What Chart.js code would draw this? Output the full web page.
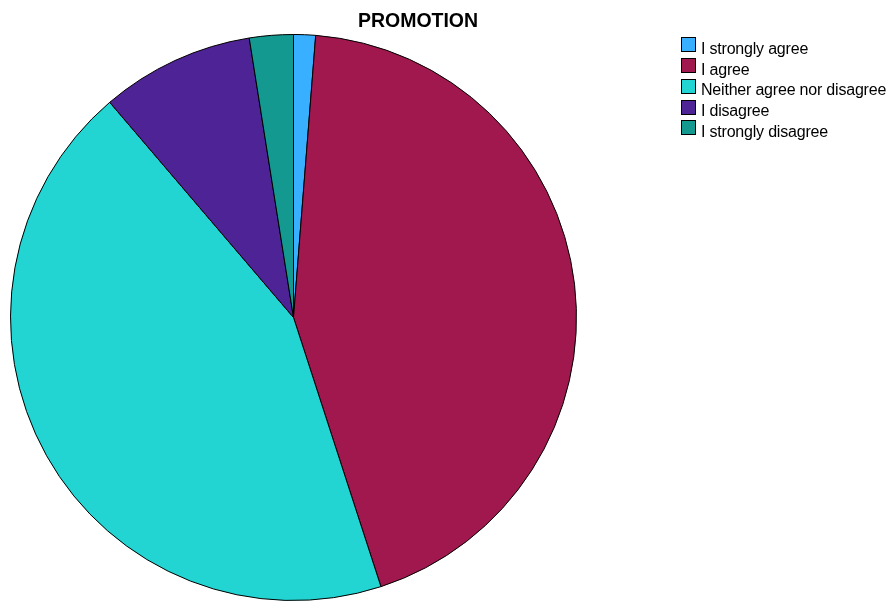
<!DOCTYPE html>
<html>
<head>
<meta charset="utf-8">
<script src="https://cdn.jsdelivr.net/npm/chart.js@4/dist/chart.umd.min.js"></script>
<style>
    html, body { margin: 0; padding: 0; background: #fff; }
    #wrap { position: relative; width: 890px; height: 603px; overflow: hidden; }
    #pie { position: absolute; left: 0; top: 0; }
    #title {
        position: absolute; left: 318px; width: 200px; top: 10px;
        text-align: center; font: bold 19.5px "Liberation Sans", Arial, sans-serif;
        line-height: 20px; color: #000;
    }
    .legend-row { position: absolute; left: 681px; height: 20px; width: 209px; }
    .legend-box {
        position: absolute; left: 0; top: 0; width: 13px; height: 13px;
        border: 1px solid #000;
    }
    .legend-text {
        position: absolute; left: 20px; top: 3.7px; white-space: nowrap;
        font: 16px "Liberation Sans", Arial, sans-serif; line-height: 16px;
        letter-spacing: -0.2px; color: #000;
    }
</style>
</head>
<body>
<div id="wrap">
    <div id="chart-box" style="position:absolute;left:0;top:0;width:890px;height:603px;">
        <canvas id="pie"></canvas>
    </div>
    <div id="title">PROMOTION</div>
    <div id="legend"></div>
</div>
<script>
const chartTitle = 'PROMOTION';
const answers = ['I strongly agree', 'I agree', 'Neither agree nor disagree', 'I disagree', 'I strongly disagree'];
const counts = [1, 35, 35, 7, 2];
const sliceColors = ['#38b0ff', '#a0184e', '#23d5d2', '#4e2396', '#13998f'];

document.getElementById('title').textContent = chartTitle;

const chart = new Chart(document.getElementById('pie'), {
    type: 'pie',
    data: {
        labels: answers,
        datasets: [{
            data: counts,
            backgroundColor: sliceColors,
            borderColor: '#000',
            borderWidth: 1,
            hoverOffset: 0,
            offset: 0
        }]
    },
    options: {
        responsive: true,
        maintainAspectRatio: false,
        animation: false,
        events: [],
        layout: { padding: { left: 10, right: 313, top: 34, bottom: 2 } },
        plugins: {
            legend: { display: false },
            title: { display: false },
            tooltip: { enabled: false }
        }
    }
});

// legend built from the chart's own label items
const legendEl = document.getElementById('legend');
const items = Chart.overrides.pie.plugins.legend.labels.generateLabels(chart);
items.forEach((item, i) => {
    const row = document.createElement('div');
    row.className = 'legend-row';
    row.style.top = (37.3 + i * 20.75) + 'px';
    row.innerHTML = `<span class="legend-box" style="background:${item.fillStyle}"></span>` +
        `<span class="legend-text">${item.text}</span>`;
    legendEl.appendChild(row);
});
</script>
</body>
</html>
